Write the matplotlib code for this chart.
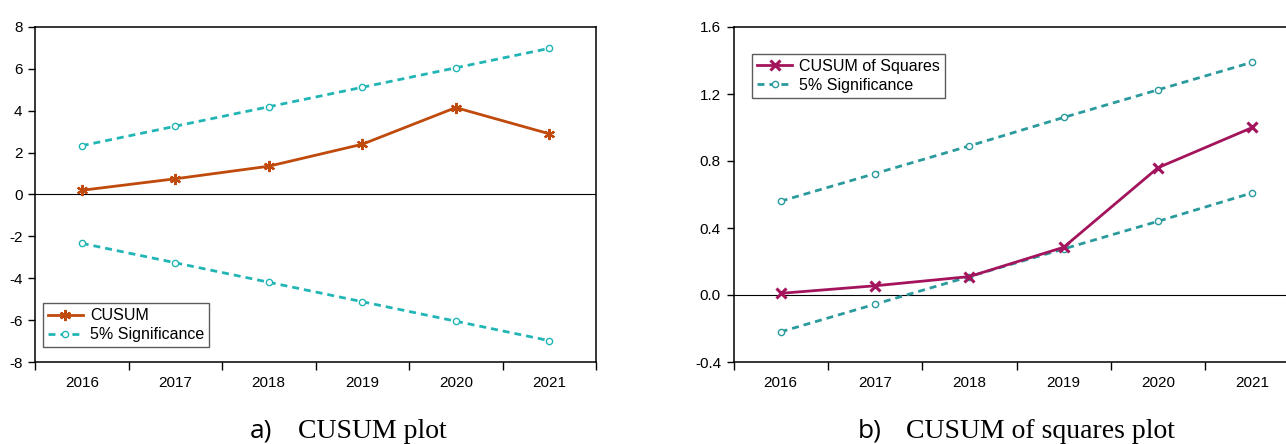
#!/usr/bin/env python3

import matplotlib
matplotlib.use('Agg')
import matplotlib.pyplot as plt
from matplotlib.ticker import FixedLocator, NullFormatter

years = ['2016', '2017', '2018', '2019', '2020', '2021']

cusum = [0.2, 0.75, 1.35, 2.4, 4.15, 2.9]
cusum_upper = [2.33, 3.26, 4.19, 5.12, 6.05, 6.98]
cusum_lower = [-2.33, -3.26, -4.19, -5.12, -6.05, -6.98]

cusumsq = [0.01, 0.055, 0.11, 0.285, 0.76, 1.0]
cusumsq_upper = [0.56, 0.725, 0.89, 1.06, 1.225, 1.39]
cusumsq_lower = [-0.22, -0.055, 0.11, 0.275, 0.44, 0.61]

plt.rcParams['font.family'] = ['Liberation Sans', 'DejaVu Sans']
plt.rcParams['font.size'] = 11


def setup_axis(ax, ylim, yticks, fmt):
    x = list(range(len(years)))
    ax.set_xlim(-0.5, len(years) - 0.5)
    ax.set_ylim(*ylim)
    ax.xaxis.set_major_locator(FixedLocator([i - 0.5 for i in range(len(years) + 1)]))
    ax.xaxis.set_major_formatter(NullFormatter())
    ax.set_xticks(x, minor=True)
    ax.set_xticklabels(years, minor=True)
    ax.tick_params(axis='x', which='major', direction='out', length=6, width=1)
    ax.tick_params(axis='x', which='minor', length=0, pad=10)
    ax.set_yticks(yticks)
    ax.set_yticklabels([fmt.format(v) for v in yticks])
    ax.tick_params(axis='y', direction='out', length=5, width=1, pad=4)
    ax.axhline(0, color='black', lw=0.8, zorder=1)
    for s in ax.spines.values():
        s.set_linewidth(1.1)
    return x


fig = plt.figure(figsize=(12.86, 4.44), dpi=100)

legend_kw = dict(frameon=True, fancybox=False, edgecolor='#333333', handlelength=2.2,
                 handletextpad=0.45, borderpad=0.3, labelspacing=0.25,
                 borderaxespad=0, fontsize=11.5)

# a) CUSUM
ax1 = fig.add_axes([35 / 1286, 1 - 362 / 444, 561 / 1286, 335 / 444])
x = setup_axis(ax1, (-8, 8), [-8, -6, -4, -2, 0, 2, 4, 6, 8], '{:g}')
sig_a = '#22B5B5'
ax1.plot(x, cusum, color='#C04A0C', lw=2, marker=(6, 2, 0), ms=8, mew=1.6,
         label='CUSUM', zorder=3)
ax1.plot(x, cusum_upper, color=sig_a, lw=2, ls=(0, (2.5, 1.8)), marker='o', ms=4.5,
         mfc='white', mew=1, label='5% Significance', zorder=2)
ax1.plot(x, cusum_lower, color=sig_a, lw=2, ls=(0, (2.5, 1.8)), marker='o', ms=4.5,
         mfc='white', mew=1, zorder=2)
leg = ax1.legend(loc='lower left', bbox_to_anchor=(0.014, 0.045), **legend_kw)
leg.get_frame().set_linewidth(1)

# b) CUSUM of squares
ax2 = fig.add_axes([733.5 / 1286, 1 - 362 / 444, 566 / 1286, 335 / 444])
x = setup_axis(ax2, (-0.4, 1.6), [-0.4, 0.0, 0.4, 0.8, 1.2, 1.6], '{:.1f}')
sig_b = '#2A9A9C'
ax2.plot(x, cusumsq, color='#A3145C', lw=2, marker='x', ms=6.5, mew=2.2,
         label='CUSUM of Squares', zorder=3)
ax2.plot(x, cusumsq_upper, color=sig_b, lw=2, ls=(0, (2.5, 1.8)), marker='o', ms=4.5,
         mfc='white', mew=1, label='5% Significance', zorder=2)
ax2.plot(x, cusumsq_lower, color=sig_b, lw=2, ls=(0, (2.5, 1.8)), marker='o', ms=4.5,
         mfc='white', mew=1, zorder=2)
leg = ax2.legend(loc='upper left', bbox_to_anchor=(0.033, 0.919), **legend_kw)
leg.get_frame().set_linewidth(1)

# captions
cap_y = 1 - 431 / 444
fig.text(250 / 1286, cap_y, 'a)', family=['Open Sans', 'DejaVu Sans'],
         fontsize=19, va='center', ha='left')
fig.text(298 / 1286, cap_y, 'CUSUM plot', family=['Liberation Serif', 'DejaVu Serif'],
         fontsize=20, va='center', ha='left')
fig.text(858 / 1286, cap_y, 'b)', family=['Open Sans', 'DejaVu Sans'],
         fontsize=19, va='center', ha='left')
fig.text(906 / 1286, cap_y, 'CUSUM of squares plot',
         family=['Liberation Serif', 'DejaVu Serif'], fontsize=20, va='center', ha='left')

fig.savefig('out.png', dpi=100)
